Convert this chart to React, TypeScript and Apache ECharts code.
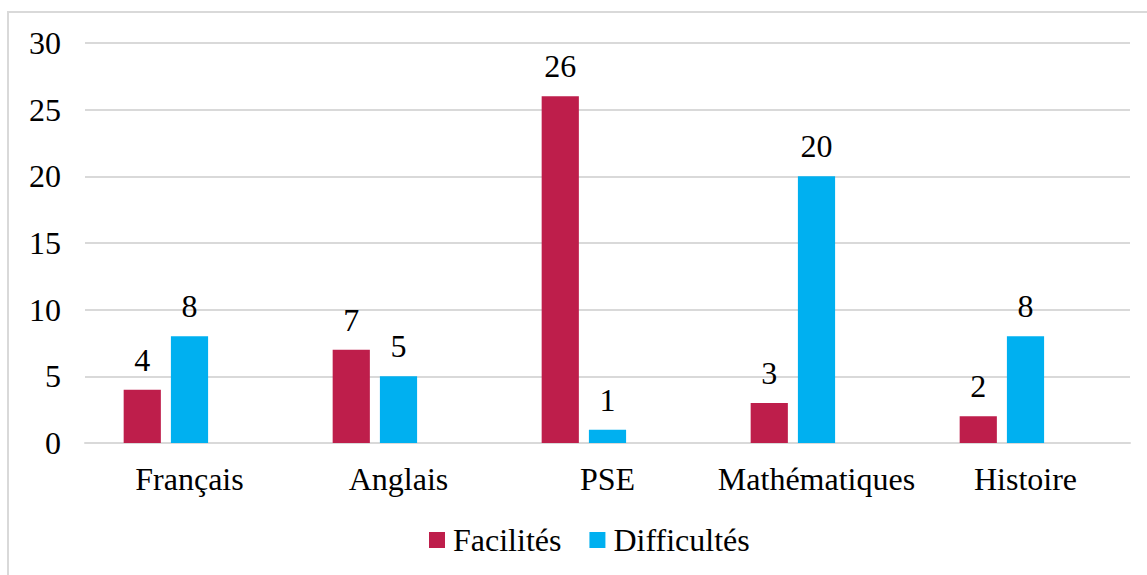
import React, { useEffect, useRef } from "react";
import * as echarts from "echarts";

const categories = ["Français", "Anglais", "PSE", "Mathématiques", "Histoire"];
const facilites = [4, 7, 26, 3, 2];
const difficultes = [8, 5, 1, 20, 8];
const emptySeries = [null, null, null, null, null];
const yTicks = { min: 0, max: 30, interval: 5 };

const FONT = "Times New Roman, Liberation Serif, DejaVu Serif, serif";

export default function App() {
  const ref = useRef<HTMLDivElement>(null);
  useEffect(() => {
    if (!ref.current) return;
    const chart = echarts.init(ref.current, undefined, { renderer: "svg" });
    const labelStyle = {
      show: true,
      position: "top" as const,
      distance: 14,
      fontFamily: FONT,
      fontSize: 32,
      color: "#000",
    };
    chart.setOption({
      animation: false,
      backgroundColor: "#fff",
      textStyle: { fontFamily: FONT },
      graphic: [
        {
          type: "rect",
          shape: { x: 8, y: 12, width: 1200, height: 600 },
          style: { fill: "none", stroke: "#d9d9d9", lineWidth: 2 },
          silent: true,
          z: -1,
        },
      ],
      grid: { left: 85, right: 17, top: 43, bottom: 132, containLabel: false },
      legend: {
        data: ["Facilités", "Difficultés"],
        bottom: 14,
        left: 424,
        itemWidth: 16,
        itemHeight: 16,
        itemGap: 28,
        icon: "rect",
        textStyle: { fontFamily: FONT, fontSize: 32, color: "#000", padding: [0, 0, 0, 3] },
      },
      xAxis: {
        type: "category",
        data: categories,
        axisTick: { show: false },
        axisLine: { lineStyle: { color: "#d9d9d9", width: 2 } },
        axisLabel: { interval: 0, fontFamily: FONT, fontSize: 32, color: "#000", margin: 20 },
      },
      yAxis: {
        type: "value",
        min: yTicks.min,
        max: yTicks.max,
        interval: yTicks.interval,
        axisLine: { show: false },
        axisTick: { show: false },
        splitLine: { lineStyle: { color: "#d9d9d9", width: 2 } },
        axisLabel: { fontFamily: FONT, fontSize: 32, color: "#000", margin: 24 },
      },
      series: [
        {
          name: "Facilités",
          type: "bar",
          data: facilites,
          itemStyle: { color: "#BE1E4B" },
          barGap: "27%",
          barCategoryGap: "37%",
          label: labelStyle,
        },
        {
          name: "Difficultés",
          type: "bar",
          data: difficultes,
          itemStyle: { color: "#00B0F0" },
          label: labelStyle,
        },
        {
          name: "_empty",
          type: "bar",
          data: emptySeries,
          itemStyle: { color: "transparent" },
        },
      ],
    });
    return () => chart.dispose();
  }, []);
  return (
    <div
      ref={ref}
      style={{ position: "fixed", left: 0, top: 0, width: 1147, height: 575 }}
    />
  );
}
